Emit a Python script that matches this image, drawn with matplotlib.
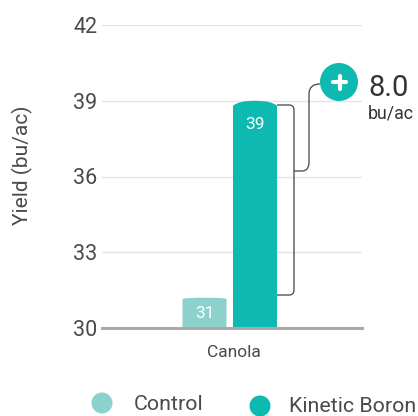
import matplotlib
matplotlib.use('Agg')
import matplotlib.pyplot as plt
from matplotlib.patches import Circle, PathPatch
from matplotlib.path import Path

categories = ['Canola']
series_names = ['Control', 'Kinetic Boron']
control_values = [31.2]
boron_values = [39]
bar_labels = ['31', '39']
y_ticks = [30, 33, 36, 39, 42]
gain_value = '8.0'
gain_unit = 'bu/ac'

LIGHT = '#8cd1cb'
TEAL = '#0db9b0'
TEXT = '#4a4a4a'

plt.rcParams['font.family'] = ['Roboto', 'DejaVu Sans']

W, H = 418, 416
fig = plt.figure(figsize=(W / 100, H / 100), dpi=100)

# axes box in pixels: x 102-362, y 25-328
ax = fig.add_axes([102 / W, 1 - 328 / H, 260 / W, 303 / H])
ax.set_xlim(-127.5, 132.5)
ax.set_ylim(30, 42)
ax.set_facecolor('none')

for s in ['top', 'right', 'left']:
    ax.spines[s].set_visible(False)
ax.spines['bottom'].set_color('#aaaaaa')
ax.spines['bottom'].set_linewidth(2.2)
ax.spines['bottom'].set_zorder(5)

ax.set_yticks(y_ticks)
ax.set_yticklabels([str(v) for v in y_ticks], fontsize=15.5, color=TEXT)
ax.tick_params(axis='y', length=0, pad=3.5)
ax.set_xticks([4.5])
ax.set_xticklabels(categories, fontsize=12.5, color=TEXT)
ax.tick_params(axis='x', length=0, pad=12)
ax.grid(axis='y', color='#e4e4e4', linewidth=1)
ax.set_axisbelow(True)
ax.set_ylabel('Yield (bu/ac)', fontsize=15, color=TEXT, labelpad=29, y=0.538)


def domed(bar, color, dome):
    # swap the square bar for one with a curved top
    x0, w, h = bar.get_x(), bar.get_width(), bar.get_height()
    y0 = bar.get_y()
    verts = [(x0, y0), (x0, y0 + h - dome), (x0 + w * 0.12, y0 + h), (x0 + w / 2, y0 + h),
             (x0 + w * 0.88, y0 + h), (x0 + w, y0 + h - dome), (x0 + w, y0), (x0, y0)]
    codes = [Path.MOVETO, Path.LINETO, Path.CURVE3, Path.CURVE3,
             Path.CURVE3, Path.CURVE3, Path.LINETO, Path.CLOSEPOLY]
    bar.set_visible(False)
    ax.add_patch(PathPatch(Path(verts, codes), facecolor=color, edgecolor='none', zorder=3))


b1 = ax.bar(-25, control_values[0] - 30, width=44, bottom=30, color=LIGHT)[0]
b2 = ax.bar(25.5, boron_values[0] - 30, width=44, bottom=30, color=TEAL)[0]
domed(b1, LIGHT, 0.04)
domed(b2, TEAL, 0.2)

ax.text(-25, 30.58, bar_labels[0], color='white', fontsize=12.5,
        ha='center', va='center', zorder=6)
ax.text(25.5, 38.05, bar_labels[1], color='white', fontsize=12.5,
        ha='center', va='center', zorder=6)

# overlay in pixel coordinates for the bracket, badge and legend
over = fig.add_axes([0, 0, 1, 1])
over.set_xlim(0, W)
over.set_ylim(H, 0)
over.axis('off')

bracket = Path(
    [(277, 105), (289, 105), (294, 105), (294, 110), (294, 290), (294, 295), (289, 295), (277, 295)],
    [Path.MOVETO, Path.LINETO, Path.CURVE3, Path.CURVE3, Path.LINETO, Path.CURVE3, Path.CURVE3, Path.LINETO],
)
over.add_patch(PathPatch(bracket, facecolor='none', edgecolor='#555555', linewidth=1))
link = Path(
    [(294, 171), (302, 171), (309, 171), (309, 162), (309, 94), (309, 84), (320, 84)],
    [Path.MOVETO, Path.LINETO, Path.CURVE3, Path.CURVE3, Path.LINETO, Path.CURVE3, Path.CURVE3],
)
over.add_patch(PathPatch(link, facecolor='none', edgecolor='#555555', linewidth=1))

over.add_patch(Circle((339, 82), 19, facecolor=TEAL, edgecolor='none', zorder=4))
over.plot([333, 346], [82, 82], color='white', linewidth=3, zorder=5, solid_capstyle='round')
over.plot([339.5, 339.5], [75.5, 88.5], color='white', linewidth=3, zorder=5, solid_capstyle='round')

over.text(368.5, 88, gain_value, fontsize=21, color='#333333', ha='left', va='center')
over.text(368, 114, gain_unit, fontsize=12.8, color='#333333', ha='left', va='center')

over.add_patch(Circle((102, 403), 10.5, facecolor=LIGHT, edgecolor='none'))
over.add_patch(Circle((260, 406), 10.5, facecolor=TEAL, edgecolor='none'))
over.text(134, 404, series_names[0], fontsize=15.4, color=TEXT, ha='left', va='center')
over.text(289, 406, series_names[1], fontsize=15.4, color=TEXT, ha='left', va='center')

fig.savefig('out.png', dpi=100)
